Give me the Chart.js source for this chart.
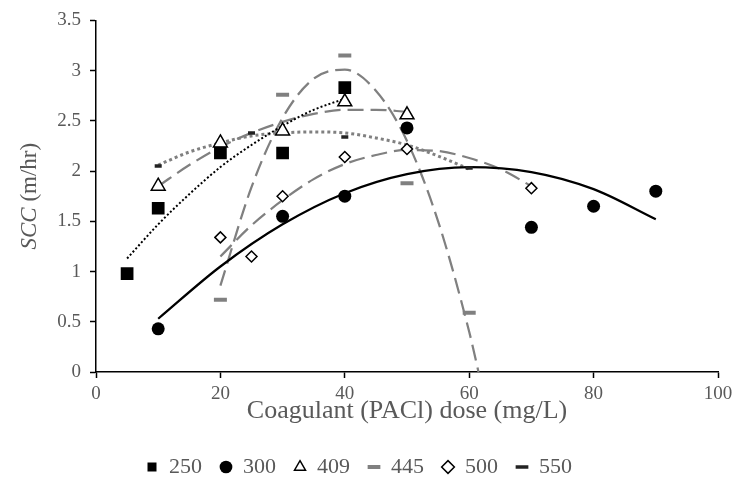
<!DOCTYPE html>
<html>
<head>
<meta charset="utf-8">
<script src="https://cdn.jsdelivr.net/npm/chart.js@4.4.1/dist/chart.umd.min.js"></script>
<style>
    html, body { margin: 0; padding: 0; background: #fff; }
    #wrap { width: 739px; height: 488px; }
</style>
</head>
<body>
<div id="wrap"><canvas id="chart" width="739" height="488"></canvas></div>
<script>
// measured points: coagulant dose (mg/L) -> SCC (m/hr), one pair of arrays per series
const seriesNames = ['250', '300', '409', '445', '500', '550'];

const dose250 = [5, 10, 20, 30, 40];
const scc250 = [0.98, 1.63, 2.18, 2.18, 2.83];
const dose300 = [10, 30, 40, 50, 70, 80, 90];
const scc300 = [0.43, 1.55, 1.75, 2.43, 1.44, 1.65, 1.80];
const dose409 = [10, 20, 30, 40, 50];
const scc409 = [1.85, 2.28, 2.40, 2.69, 2.56];
const dose445 = [20, 30, 40, 50, 60];
const scc445 = [0.72, 2.76, 3.15, 1.88, 0.59];
const dose500 = [20, 25, 30, 40, 50, 70];
const scc500 = [1.34, 1.15, 1.75, 2.14, 2.22, 1.83];
const dose550 = [10, 25, 30, 40, 60];
const scc550 = [2.05, 2.38, 2.39, 2.34, 2.03];

// trend curves
const trendX250 = [5, 10, 15, 20, 25, 30, 35, 40];
const trendY250 = [1.13, 1.47, 1.77, 2.04, 2.26, 2.45, 2.61, 2.72];
const trendX300 = [10, 20, 30, 40, 50, 60, 70, 80, 90];
const trendY300 = [0.53, 1.05, 1.47, 1.78, 1.97, 2.04, 1.99, 1.82, 1.52];
const trendX409 = [10, 15, 20, 25, 30, 35, 40, 45, 50];
const trendY409 = [1.85, 2.06, 2.24, 2.38, 2.49, 2.57, 2.61, 2.61, 2.59];
const trendX445 = [20, 25, 30, 35, 40, 45, 50, 55, 60, 61.5];
const trendY445 = [0.86, 1.84, 2.53, 2.92, 3.01, 2.80, 2.30, 1.50, 0.40, 0];
const trendX500 = [20, 25, 30, 35, 40, 45, 50, 55, 60, 65, 70];
const trendY500 = [1.15, 1.46, 1.71, 1.92, 2.07, 2.16, 2.21, 2.20, 2.13, 2.02, 1.85];
const trendX550 = [10, 15, 20, 25, 30, 35, 40, 45, 50, 55, 60];
const trendY550 = [2.06, 2.19, 2.28, 2.35, 2.38, 2.39, 2.38, 2.33, 2.26, 2.15, 2.02];

const xTicks = [0, 20, 40, 60, 80, 100];
const yTicks = [0, 0.5, 1, 1.5, 2, 2.5, 3, 3.5];
const xTitle = 'Coagulant (PACl) dose (mg/L)';
const yTitleItalic = 'SCC';
const yTitleRest = ' (m/hr)';

const FONT = '"Liberation Serif", "Times New Roman", serif';
const TEXT = '#595959';
const GREY = '#808080';

let pts = function(xs, ys) {
    return xs.map((x, i) => ({x: x, y: ys[i]}));
};

let markers = function(label, xs, ys, style) {
    return Object.assign({
        label: label,
        data: pts(xs, ys),
        showLine: false,
        pointHoverRadius: 0,
    }, style);
};

let trend = function(xs, ys, style) {
    return Object.assign({
        label: '',
        data: pts(xs, ys),
        showLine: true,
        pointRadius: 0,
        pointHoverRadius: 0,
        fill: false,
        cubicInterpolationMode: 'monotone',
    }, style);
};

const yTitlePlugin = {
    id: 'yTitle',
    afterDraw(chart) {
        const ctx = chart.ctx;
        const area = chart.chartArea;
        const it = 'italic 23px ' + FONT;
        const rg = '23px ' + FONT;
        ctx.save();
        ctx.translate(30, (area.top + area.bottom) / 2);
        ctx.rotate(-Math.PI / 2);
        ctx.fillStyle = TEXT;
        ctx.textBaseline = 'middle';
        ctx.textAlign = 'left';
        ctx.font = it;
        const w1 = ctx.measureText(yTitleItalic).width;
        ctx.font = rg;
        const w2 = ctx.measureText(yTitleRest).width;
        const x0 = -(w1 + w2) / 2;
        ctx.font = it;
        ctx.fillText(yTitleItalic, x0, 0);
        ctx.font = rg;
        ctx.fillText(yTitleRest, x0 + w1, 0);
        ctx.restore();
    }
};

const datasets = [
    markers(seriesNames[0], dose250, scc250, {
        pointStyle: 'rect', pointRadius: 9,
        pointBackgroundColor: '#000', pointBorderColor: '#000', pointBorderWidth: 0,
    }),
    markers(seriesNames[1], dose300, scc300, {
        pointStyle: 'circle', pointRadius: 6.5,
        pointBackgroundColor: '#000', pointBorderColor: '#000', pointBorderWidth: 0,
    }),
    markers(seriesNames[2], dose409, scc409, {
        pointStyle: 'triangle', pointRadius: 8,
        pointBackgroundColor: '#fff', pointBorderColor: '#000', pointBorderWidth: 1.5,
    }),
    markers(seriesNames[3], dose445, scc445, {
        pointStyle: 'line', pointRadius: 6.5,
        pointBackgroundColor: GREY, pointBorderColor: GREY, pointBorderWidth: 4,
    }),
    markers(seriesNames[4], dose500, scc500, {
        pointStyle: 'rectRot', pointRadius: 5.5,
        pointBackgroundColor: '#fff', pointBorderColor: '#000', pointBorderWidth: 1.5,
    }),
    markers(seriesNames[5], dose550, scc550, {
        pointStyle: 'line', pointRadius: 3.5,
        pointBackgroundColor: '#222', pointBorderColor: '#222', pointBorderWidth: 3.5,
    }),
    trend(trendX250, trendY250, {borderColor: '#000', borderWidth: 2, borderDash: [2, 2.2]}),
    trend(trendX300, trendY300, {borderColor: '#000', borderWidth: 2.25}),
    trend(trendX409, trendY409, {borderColor: GREY, borderWidth: 2.25, borderDash: [16, 7]}),
    trend(trendX445, trendY445, {borderColor: GREY, borderWidth: 2.25, borderDash: [16, 7]}),
    trend(trendX500, trendY500, {borderColor: GREY, borderWidth: 2.25, borderDash: [16, 7]}),
    trend(trendX550, trendY550, {borderColor: GREY, borderWidth: 3, borderDash: [3, 3]}),
];

const PLOT_BOTTOM = 372;
const PAD_BOTTOM = 0;

new Chart(document.getElementById('chart').getContext('2d'), {
    type: 'scatter',
    data: {datasets: datasets},
    plugins: [yTitlePlugin],
    options: {
        responsive: false,
        animation: false,
        devicePixelRatio: 1,
        layout: {padding: {left: 0, right: 21, top: 20, bottom: PAD_BOTTOM}},
        plugins: {
            tooltip: {enabled: false},
            legend: {
                position: 'bottom',
                labels: {
                    filter: (item) => item.datasetIndex < seriesNames.length,
                    usePointStyle: true,
                    boxWidth: 12,
                    boxHeight: 9,
                    padding: 18,
                    color: TEXT,
                    font: {family: FONT, size: 22},
                }
            }
        },
        scales: {
            x: {
                type: 'linear',
                min: 0,
                max: 100,
                afterBuildTicks: (s) => { s.ticks = xTicks.map(v => ({value: v})); },
                afterFit: (s) => {
                    s.height = s.chart.height - PAD_BOTTOM - s.chart.legend.height - PLOT_BOTTOM;
                },
                grid: {drawOnChartArea: false, drawTicks: true, tickLength: 6, tickColor: '#000', tickWidth: 1.5},
                border: {display: true, color: '#000', width: 1.5},
                ticks: {color: TEXT, padding: 5, maxRotation: 0, font: {family: FONT, size: 19},
                    callback: (v) => String(v)},
                title: {
                    display: true,
                    text: xTitle,
                    color: TEXT,
                    font: {family: FONT, size: 26},
                    padding: {top: 4, bottom: 11},
                }
            },
            y: {
                type: 'linear',
                min: 0,
                max: 3.5,
                afterBuildTicks: (s) => { s.ticks = yTicks.map(v => ({value: v})); },
                afterFit: (s) => { s.width = 96; },
                grid: {drawOnChartArea: false, drawTicks: true, tickLength: 6, tickColor: '#000', tickWidth: 1.5},
                border: {display: true, color: '#000', width: 1.5},
                ticks: {color: TEXT, padding: 9, font: {family: FONT, size: 19},
                    callback: (v) => String(v)},
            }
        }
    }
});
</script>
</body>
</html>
